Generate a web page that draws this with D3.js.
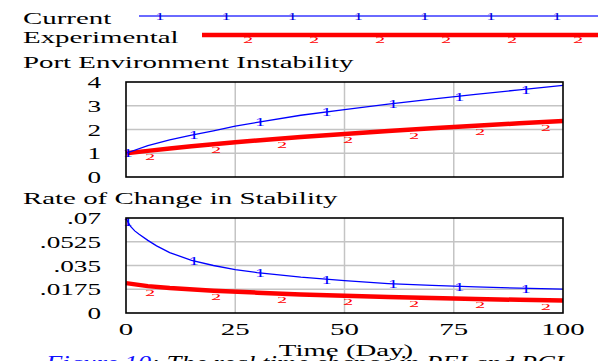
<!DOCTYPE html>
<html><head><meta charset="utf-8">
<script src="https://cdn.jsdelivr.net/npm/d3@7"></script>
<style>html,body{margin:0;padding:0;background:#fff;overflow:hidden}</style>
</head><body>
<svg id="c" width="598" height="361"></svg>
<script>
// ---- data ----
const peiDays = [0,5,10,15,20,25,30,40,50,60,70,80,90,100];
const peiCurrent = [1.0,1.32,1.56,1.76,1.94,2.14,2.30,2.60,2.84,3.07,3.28,3.48,3.67,3.86];
const peiExperimental = [1.0,1.10,1.20,1.29,1.38,1.46,1.54,1.68,1.81,1.94,2.05,2.16,2.26,2.36];

const rciDaysCur = [0,1,2,3,5,7,10,15,20,25,30,40,50,60,70,80,90,100];
const rciCurrent = [0.0695,0.064,0.0605,0.058,0.0535,0.0495,0.0445,0.0388,0.035,0.032,0.0298,0.0264,0.0238,0.0217,0.0203,0.0192,0.0183,0.0176];
const rciDaysExp = [0,5,10,20,30,40,50,60,70,80,90,100];
const rciExperimental = [0.022,0.0198,0.0184,0.0164,0.015,0.0137,0.0127,0.0118,0.0111,0.0104,0.0097,0.0092];

const markDaysCurrent = [0.4,15.5,30.7,45.9,61.1,76.3,91.5];
const markDaysExperimental = [5.5,20.6,35.7,50.8,65.9,81.0,96.1];

const xTicks = [0,25,50,75,100];
const peiTicks = [0,1,2,3,4];
const peiTickLabels = ["0","1","2","3","4"];
const rciTicks = [0,0.0175,0.035,0.0525,0.07];
const rciTickLabels = ["0",".0175",".035",".0525",".07"];

const seriesNames = ["Current","Experimental"];
const panelTitles = ["Port Environment Instability","Rate of Change in Stability"];
const xTitle = "Time (Day)";

// ---- drawing ----
const svg = d3.select("#c");
const FONT = "'Liberation Serif','Times New Roman',serif";
const SX = 1.7;
const BLUE = "#0000ff", RED = "#ff0000";

function stext(g, str, x, y, size, anchor, fill, sy) {
  return g.append("text")
    .attr("transform", `translate(${x},${y}) scale(${SX},${sy || 1})`)
    .attr("font-family", FONT).attr("font-size", size)
    .attr("text-anchor", anchor || "start")
    .attr("fill", fill || "#000")
    .text(str);
}

// legend
const lg = svg.append("g");
stext(lg, seriesNames[0], 23, 24, 17);
stext(lg, seriesNames[1], 23, 43, 17);
lg.append("line").attr("x1",139).attr("x2",598).attr("y1",16).attr("y2",16)
  .attr("stroke","#6a6aff").attr("stroke-width",2);
lg.append("line").attr("x1",202).attr("x2",598).attr("y1",35).attr("y2",35)
  .attr("stroke",RED).attr("stroke-width",4.5);
const legScale1 = d3.scaleLinear().domain([0,6]).range([160,557]);
d3.range(7).forEach(i => {
  stext(lg, "1", legScale1(i), 20, 11, "middle", "#0000dd");
});
const legScale2 = d3.scaleLinear().domain([0,5]).range([248,578]);
d3.range(6).forEach(i => {
  stext(lg, "2", legScale2(i), 42.5, 12, "middle", RED, 0.75);
});

const x = d3.scaleLinear().domain([0,100]).range([126,563]);

function panel(top, bottom, yMax, ticks, tickLabels, title, titleY, curDays, cur, expDays, exp) {
  const y = d3.scaleLinear().domain([0,yMax]).range([bottom, top]);
  const g = svg.append("g");
  stext(g, title, 23, titleY, 17);
  // grid
  g.selectAll(".vg").data(xTicks.slice(1,-1)).join("line")
    .attr("x1", d=>x(d)).attr("x2", d=>x(d)).attr("y1", top).attr("y2", bottom)
    .attr("stroke","#c4c4c4").attr("stroke-width",1.5);
  g.selectAll(".hg").data(ticks.slice(1,-1)).join("line")
    .attr("x1", x(0)).attr("x2", x(100)).attr("y1", d=>y(d)).attr("y2", d=>y(d))
    .attr("stroke","#c4c4c4").attr("stroke-width",1.5);
  // tick labels
  ticks.forEach((t,i) => stext(g, tickLabels[i], 101, y(t)+6, 16, "end"));
  // lines
  const lineGen = (days) => d3.line().x((d,i)=>x(days[i])).y(d=>y(d));
  const interp = (days, vals) => d3.scaleLinear().domain(days).range(vals);
  g.append("path").attr("d", lineGen(expDays)(exp)).attr("fill","none")
    .attr("stroke",RED).attr("stroke-width",4.5).attr("stroke-linejoin","round");
  g.append("path").attr("d", lineGen(curDays)(cur)).attr("fill","none")
    .attr("stroke",BLUE).attr("stroke-width",1.3);
  const fe = interp(expDays, exp), fc = interp(curDays, cur);
  markDaysExperimental.forEach(d => stext(g, "2", x(d), y(fe(d))+9.5, 12, "middle", RED, 0.75));
  markDaysCurrent.forEach(d => stext(g, "1", x(d), y(fc(d))+4.5, 12, "middle", BLUE));
  // frame
  g.append("rect").attr("x", x(0)).attr("y", top).attr("width", x(100)-x(0)).attr("height", bottom-top)
    .attr("fill","none").attr("stroke","#000").attr("stroke-width",1.6);
  return g;
}

panel(82, 177, 4, peiTicks, peiTickLabels, panelTitles[0], 68, peiDays, peiCurrent, peiDays, peiExperimental);
panel(218, 313, 0.07, rciTicks, rciTickLabels, panelTitles[1], 204, rciDaysCur, rciCurrent, rciDaysExp, rciExperimental);

// x axis labels
const ax = svg.append("g");
xTicks.forEach(t => stext(ax, String(t), x(t), 335, 17, "middle"));
stext(ax, xTitle, 346, 356, 17, "middle");

// caption
const cap = svg.append("text")
  .attr("font-family", FONT).attr("font-size", 21).attr("font-style","italic");
cap.append("tspan").attr("fill","#1010ff").text("Figure 10");
cap.append("tspan").attr("fill","#000").text(": The real time change in PEI and RCI");
const len = cap.node().getComputedTextLength();
cap.attr("transform", `translate(46,370) scale(${518/len},1)`);
</script>
</body></html>
